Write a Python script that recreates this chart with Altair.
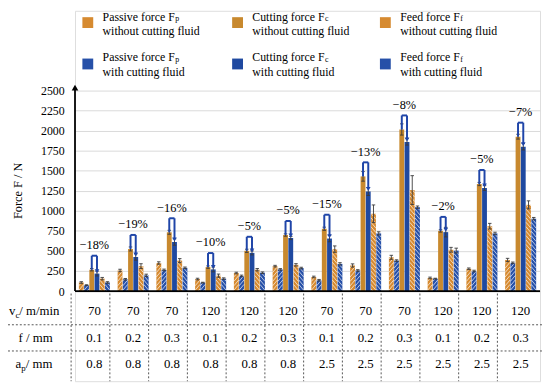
import altair as alt
import pandas as pd

# ---------------- data ----------------
vc_labels = ["70", "70", "70", "120", "120", "120", "70", "70", "70", "120", "120", "120"]
f_labels = ["0.1", "0.2", "0.3", "0.1", "0.2", "0.3", "0.1", "0.2", "0.3", "0.1", "0.2", "0.3"]
ap_labels = ["0.8", "0.8", "0.8", "0.8", "0.8", "0.8", "2.5", "2.5", "2.5", "2.5", "2.5", "2.5"]

passive_wo = [107, 257, 350, 150, 225, 311, 176, 319, 421, 164, 278, 388]
passive_w = [74, 147, 264, 105, 189, 270, 135, 257, 380, 155, 250, 352]
cut_wo = [266, 525, 733, 299, 502, 699, 777, 1430, 2015, 750, 1335, 1925]
cut_w = [218, 425, 612, 270, 476, 662, 655, 1242, 1860, 735, 1285, 1800]
feed_wo = [155, 311, 380, 192, 266, 327, 523, 964, 1259, 515, 809, 1075]
feed_w = [107, 196, 290, 155, 229, 287, 339, 719, 1046, 505, 719, 903]

err_passive_wo = [10, 15, 15, 10, 10, 10, 10, 20, 25, 10, 10, 20]
err_passive_w = [5, 10, 10, 5, 10, 10, 10, 10, 10, 5, 10, 10]
err_cut_wo = [15, 25, 25, 15, 20, 15, 20, 60, 70, 15, 20, 30]
err_cut_w = [30, 40, 40, 30, 25, 20, 40, 50, 40, 60, 30, 40]
err_feed_wo = [15, 30, 25, 20, 15, 15, 40, 110, 180, 30, 35, 50]
err_feed_w = [10, 15, 10, 10, 10, 10, 15, 20, 15, 30, 15, 15]

reductions = ["\u221218%", "\u221219%", "\u221216%", "\u221210%", "\u22125%", "\u22125%",
              "\u221215%", "\u221213%", "\u22128%", "\u22122%", "\u22125%", "\u22127%"]
y_ticks = [0, 250, 500, 750, 1000, 1250, 1500, 1750, 2000, 2250, 2500]

ORANGE_H = "#D68A30"
ORANGE = "#C8892E"
BLUE_H = "#2650A8"
BLUE = "#1F49A0"
BRACKET = "#1F45A8"
FONT = "Liberation Serif, Times New Roman, DejaVu Serif, serif"

series = [
    ("Passive force", "p", "without cutting fluid", passive_wo, err_passive_wo, ORANGE_H, "/"),
    ("Passive force", "p", "with cutting fluid", passive_w, err_passive_w, BLUE_H, "/"),
    ("Cutting force", "c", "without cutting fluid", cut_wo, err_cut_wo, ORANGE, None),
    ("Cutting force", "c", "with cutting fluid", cut_w, err_cut_w, BLUE, None),
    ("Feed force", "f", "without cutting fluid", feed_wo, err_feed_wo, ORANGE_H, "\\"),
    ("Feed force", "f", "with cutting fluid", feed_w, err_feed_w, BLUE_H, "\\"),
]

# ---------------- layout helpers ----------------
W, H = 472, 376
YMAX, YMIN = 3495, -1124
SX = W / 12.0
K = H / float(YMAX - YMIN)


def xd(px):
    return (px - 76) / SX


def yd(py):
    return YMAX - (py - 8) / K


PERIOD = 4.5


def hatch(x0, x1, y0, y1, direction):
    X0, X1 = x0 * SX, x1 * SX
    Y0, Y1 = y0 * K, y1 * K
    w = X1 - X0
    rise = w * 1.2
    out = []
    c = Y0 - rise + PERIOD * 0.5
    while c < Y1:
        if direction == "/":
            tmin = max(0.0, (Y0 - c) / rise)
            tmax = min(1.0, (Y1 - c) / rise)
            if tmax > tmin:
                out.append((X0 + tmin * w, c + rise * tmin, X0 + tmax * w, c + rise * tmax))
        else:
            tmin = max(0.0, 1 - (Y1 - c) / rise)
            tmax = min(1.0, 1 - (Y0 - c) / rise)
            if tmax > tmin:
                out.append((X0 + tmin * w, c + rise * (1 - tmin), X0 + tmax * w, c + rise * (1 - tmax)))
        c += PERIOD
    return [{"x": a / SX, "y": b / K, "x2": cc / SX, "y2": d / K} for a, b, cc, d in out]


BW = 0.125
GAP = 0.01
START = (1 - 6 * BW - 5 * GAP) / 2

bars, hatches, errs = [], [], []
for j, (nm, sub, cond, vals, es, col, hd) in enumerate(series):
    for i, v in enumerate(vals):
        x0 = i + START + j * (BW + GAP)
        x1 = x0 + BW
        bars.append({"x": x0, "x2": x1, "y": v, "y2": 0, "color": col})
        if hd:
            hatches += hatch(x0, x1, 0, v, hd)
        cx = (x0 + x1) / 2
        e = es[i]
        errs.append({"x": cx, "x2": cx, "y": v - e, "y2": v + e})
        errs.append({"x": cx - 0.045, "x2": cx + 0.045, "y": v + e, "y2": v + e})
        errs.append({"x": cx - 0.045, "x2": cx + 0.045, "y": v - e, "y2": v - e})

# brackets
brk, arrows, pct = [], [], []
for i in range(12):
    co = i + START + 2 * (BW + GAP) + BW / 2
    cb = i + START + 3 * (BW + GAP) + BW / 2
    top = max(cut_wo[i], cut_w[i]) + 175
    brk.append({"x": co, "x2": co, "y": cut_wo[i], "y2": top})
    brk.append({"x": co, "x2": cb, "y": top, "y2": top})
    brk.append({"x": cb, "x2": cb, "y": top, "y2": cut_w[i] + 40})
    arrows.append({"x": cb, "y": cut_w[i] + 30})
    pct.append({"x": (co + cb) / 2, "y": top + 45, "t": reductions[i]})

# legend
leg_rects, leg_text, leg_sub = [], [], []
sw_cx = [89, 241, 391]
tx = [104, 256, 406]
row_sw = [20, 62]
row_l1 = [14, 55]
row_l2 = [29, 70]
main_w = {"Passive force": 73.3, "Cutting force": 73.3, "Feed force": 60.6}
for j, (nm, sub, cond, vals, es, col, hd) in enumerate(series):
    c = j // 2
    r = j % 2
    x0, x1 = xd(sw_cx[c] - 5.5), xd(sw_cx[c] + 5.5)
    y0, y1 = yd(row_sw[r] + 5.5), yd(row_sw[r] - 5.5)
    leg_rects.append({"x": x0, "x2": x1, "y": y0, "y2": y1, "color": col})
    if hd:
        hatches += hatch(x0, x1, y0, y1, hd)
    leg_text.append({"x": xd(tx[c]), "y": yd(row_l1[r]), "t": nm + " F"})
    leg_text.append({"x": xd(tx[c]), "y": yd(row_l2[r]), "t": cond})
    leg_sub.append({"x": xd(tx[c] + main_w[nm] + 0.5), "y": yd(row_l1[r] + 2.8), "t": sub})

# table
tab_text = []
rows_py = [313, 340, 367]
for i in range(12):
    for r, labs in enumerate([vc_labels, f_labels, ap_labels]):
        tab_text.append({"x": i + 0.5, "y": yd(rows_py[r]), "t": labs[i]})
row_pieces = [
    {"x": xd(9), "y": yd(313), "t": "v"},
    {"x": xd(19.5), "y": yd(313), "t": " / m/min"},
    {"x": xd(18.7), "y": yd(340), "t": "f / mm"},
    {"x": xd(15.7), "y": yd(367), "t": "a"},
    {"x": xd(26), "y": yd(367), "t": " / mm"},
]
row_subs = [
    {"x": xd(15.5), "y": yd(316.5), "t": "c"},
    {"x": xd(21.5), "y": yd(370.5), "t": "p"},
]
dots = []
for py in [326.7, 353.3]:
    dots.append({"x": xd(8), "x2": 12.05, "y": yd(py), "y2": yd(py)})
for k in range(12):
    dots.append({"x": k - 0.1, "x2": k - 0.1, "y": yd(295), "y2": yd(384)})

axes_lines = [
    {"x": 0, "x2": 12, "y": 0, "y2": 0},
    {"x": 0, "x2": 0, "y": 0, "y2": yd(86)},
]

# ---------------- chart ----------------
xs = alt.Scale(domain=[0, 12], nice=False, zero=False)
ys = alt.Scale(domain=[YMIN, YMAX], nice=False, zero=False)
yaxis = alt.Axis(values=y_ticks, format="d", grid=True, gridColor="#D9D9D9", gridWidth=1,
                 ticks=False, domain=False, labelPadding=11, labelFontSize=12,
                 labelFont=FONT, labelColor="black", title=None)


def X(f="x"):
    return alt.X(f, type="quantitative", scale=xs, axis=None)


def Y(f="y"):
    return alt.Y(f, type="quantitative", scale=ys, axis=yaxis)


def seg_layer(rows, **kw):
    return alt.Chart(pd.DataFrame(rows)).mark_rule(**kw).encode(
        x=X(), x2="x2", y=Y(), y2="y2")


def text_layer(rows, **kw):
    return alt.Chart(pd.DataFrame(rows)).mark_text(font=FONT, color="black", **kw).encode(
        x=X(), y=Y(), text="t:N")


bar_layer = alt.Chart(pd.DataFrame(bars)).mark_bar().encode(
    x=X(), x2="x2", y=Y(), y2="y2", color=alt.Color("color:N", scale=None))
leg_layer = alt.Chart(pd.DataFrame(leg_rects)).mark_rect().encode(
    x=X(), x2="x2", y=Y(), y2="y2", color=alt.Color("color:N", scale=None))
hatch_layer = seg_layer(hatches, color="white", strokeWidth=0.8, opacity=0.85)
err_layer = seg_layer(errs, color="#3a3a3a", strokeWidth=0.9)
axis_layer = seg_layer(axes_lines, color="black", strokeWidth=1.8)
yarrow = alt.Chart(pd.DataFrame([{"x": 0, "y": yd(86)}])).mark_point(
    shape="triangle-up", filled=True, color="black", size=45, opacity=1).encode(x=X(), y=Y())
brk_layer = seg_layer(brk, color=BRACKET, strokeWidth=2)
arr_layer = alt.Chart(pd.DataFrame(arrows)).mark_point(
    shape="triangle-down", filled=True, color=BRACKET, size=22, opacity=1).encode(x=X(), y=Y())
pct_layer = text_layer(pct, fontSize=12.5, align="center", baseline="bottom")
leg_t = text_layer(leg_text, fontSize=12, align="left", baseline="middle")
leg_s = text_layer(leg_sub, fontSize=8, align="left", baseline="middle")
tab_t = text_layer(tab_text, fontSize=13, align="center", baseline="middle")
row_t = text_layer(row_pieces, fontSize=13, align="left", baseline="middle")
row_s = text_layer(row_subs, fontSize=9, align="left", baseline="middle")
dot_layer = seg_layer(dots, color="#555555", strokeWidth=1, strokeDash=[2, 2])
ytitle = text_layer([{"x": xd(18), "y": 1250, "t": "Force F / N"}], fontSize=12.5,
                    align="center", baseline="middle", angle=270)

chart = alt.layer(
    bar_layer, hatch_layer, err_layer, axis_layer, yarrow, brk_layer, arr_layer, pct_layer,
    leg_layer, leg_t, leg_s, tab_t, row_t, row_s, dot_layer, ytitle
).properties(
    width=W, height=H,
    padding={"left": 68, "top": 0, "right": 2, "bottom": 0},
    autosize=alt.AutoSizeParams(type="none"),
).configure_view(stroke=None).configure(background="white", font=FONT)

chart.save("out.html", embed_options={"renderer": "svg", "actions": False})
